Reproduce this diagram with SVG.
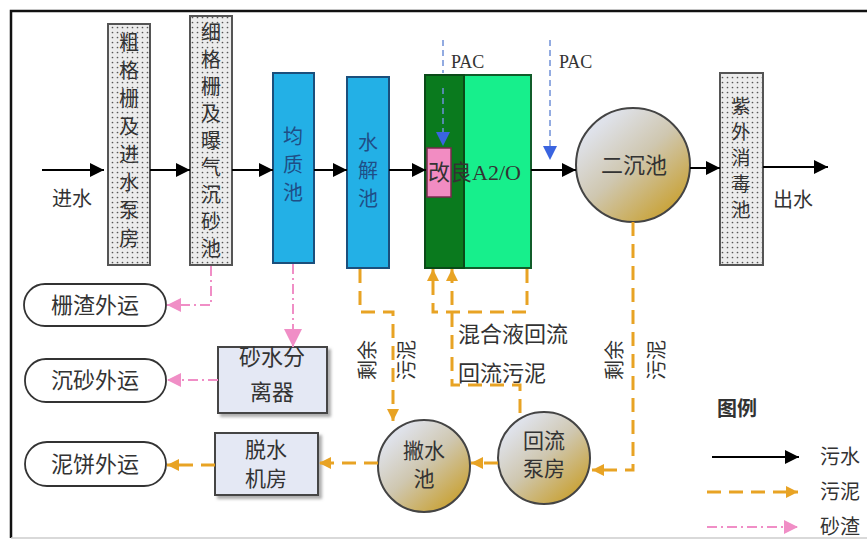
<svg xmlns="http://www.w3.org/2000/svg" width="867" height="540" viewBox="0 0 867 540">
<defs>
<pattern id="dots" width="5" height="5" patternUnits="userSpaceOnUse">
<rect width="5" height="5" fill="#ececec"/>
<circle cx="2.5" cy="2.5" r="0.85" fill="#555"/>
</pattern>
<linearGradient id="ball" x1="0.2" y1="0.15" x2="0.85" y2="0.9">
<stop offset="0" stop-color="#dfe2ea"/>
<stop offset="0.45" stop-color="#cfc7b0"/>
<stop offset="1" stop-color="#c9a235"/>
</linearGradient>
<filter id="sh" x="-10%" y="-10%" width="130%" height="130%">
<feDropShadow dx="3" dy="3" stdDeviation="1.5" flood-color="#777" flood-opacity="0.6"/>
</filter>
<marker id="ab" viewBox="0 0 10 10" refX="10" refY="5" markerWidth="14" markerHeight="14" markerUnits="userSpaceOnUse" orient="auto">
<path d="M0,0 L10,5 L0,10 Z" fill="#000"/>
</marker>
<marker id="ao" viewBox="0 0 10 10" refX="10" refY="5" markerWidth="12" markerHeight="12" markerUnits="userSpaceOnUse" orient="auto">
<path d="M0,0 L10,5 L0,10 Z" fill="#e8a324"/>
</marker>
<marker id="ap" viewBox="0 0 10 10" refX="10" refY="5" markerWidth="16" markerHeight="14" markerUnits="userSpaceOnUse" orient="auto">
<path d="M0,0 L10,5 L0,10 Z" fill="#f08ec6"/>
</marker>
<marker id="apl" viewBox="0 0 10 10" refX="10" refY="5" markerWidth="26" markerHeight="18" markerUnits="userSpaceOnUse" orient="auto">
<path d="M0,0 L10,5 L0,10 Z" fill="#f08ec6"/>
</marker>
<marker id="abl" viewBox="0 0 10 10" refX="10" refY="5" markerWidth="14" markerHeight="14" markerUnits="userSpaceOnUse" orient="auto">
<path d="M0,0 L10,5 L0,10 Z" fill="#3a64e0"/>
</marker>
</defs>
<style>
text{font-family:"Noto Sans CJK SC","Liberation Sans",sans-serif;fill:#333;}
.t19{font-size:19px;}
.t20{font-size:20px;}
.t21{font-size:21px;}
.t22{font-size:22px;}
.blue{fill:#1f4e86;font-size:20px;}
.ser{font-family:"Liberation Serif",serif;}
.dotbox{fill:url(#dots);stroke:#555;stroke-width:2;}
.bluebox{fill:#23b0e6;stroke:#1b4f7c;stroke-width:2;}
.gbox{fill:#e4e8f4;stroke:#444;stroke-width:2;}
.oval{fill:#fff;stroke:#333;stroke-width:1.8;}
.ball{fill:url(#ball);stroke:#444;stroke-width:2;}
.blk{stroke:#000;stroke-width:2;fill:none;}
.org{stroke:#e8a324;stroke-width:3;fill:none;stroke-dasharray:14 8;}
.pnk{stroke:#f08ec6;stroke-width:2;fill:none;stroke-dasharray:10 4 2 4;}
.pac{stroke:#6f90d8;stroke-width:1.5;fill:none;stroke-dasharray:6 4;}
</style>
<rect width="867" height="540" fill="#fff"/>
<path d="M867,11 H11 V538" fill="none" stroke="#111" stroke-width="2.5"/>
<path d="M11,538 H867" fill="none" stroke="#ccc" stroke-width="1.5"/>

<g id="n-cugeshan">
<rect class="dotbox" x="108" y="24" width="42" height="241"/>
<text class="t20" text-anchor="middle"><tspan x="129" y="50">粗</tspan><tspan x="129" y="78">格</tspan><tspan x="129" y="106">栅</tspan><tspan x="129" y="134">及</tspan><tspan x="129" y="162">进</tspan><tspan x="129" y="190">水</tspan><tspan x="129" y="218">泵</tspan><tspan x="129" y="246">房</tspan></text>
</g>
<g id="n-xigeshan">
<rect class="dotbox" x="190" y="16" width="42" height="249"/>
<text class="t20" text-anchor="middle"><tspan x="211" y="40">细</tspan><tspan x="211" y="67">格</tspan><tspan x="211" y="94">栅</tspan><tspan x="211" y="121">及</tspan><tspan x="211" y="148">曝</tspan><tspan x="211" y="175">气</tspan><tspan x="211" y="202">沉</tspan><tspan x="211" y="229">砂</tspan><tspan x="211" y="256">池</tspan></text>
</g>
<g id="n-junzhi">
<rect class="bluebox" x="273" y="73" width="41" height="190"/>
<text class="blue" text-anchor="middle"><tspan x="293" y="144">均</tspan><tspan x="293" y="172">质</tspan><tspan x="293" y="200">池</tspan></text>
</g>
<g id="n-shuijie">
<rect class="bluebox" x="347" y="77" width="42" height="191"/>
<text class="blue" text-anchor="middle"><tspan x="368" y="150">水</tspan><tspan x="368" y="178">解</tspan><tspan x="368" y="206">池</tspan></text>
</g>
<g id="n-a2o">
<rect x="464" y="75" width="67" height="193" fill="#17ef8c" stroke="#115c2a" stroke-width="2"/>
<rect x="425" y="75" width="39" height="193" fill="#0a7a1e" stroke="#0a4a18" stroke-width="2"/>
<rect x="427" y="148" width="24" height="49" fill="#f28cc2" stroke="#7a2a4e" stroke-width="1.5"/>
<text class="t22" x="428" y="180" fill="#2a3a2a">改良<tspan class="ser">A2/O</tspan></text>
<text class="ser" x="451" y="68" font-size="18">PAC</text>
<text class="ser" x="559" y="68" font-size="18">PAC</text>
</g>
<g id="n-erchen">
<circle class="ball" cx="633" cy="165" r="57"/>
<text class="t22" x="634" y="173" text-anchor="middle" fill="#555">二沉池</text>
</g>
<g id="n-ziwai">
<rect class="dotbox" x="720" y="73" width="43" height="192"/>
<text class="t19" text-anchor="middle"><tspan x="741" y="113">紫</tspan><tspan x="741" y="139">外</tspan><tspan x="741" y="165">消</tspan><tspan x="741" y="191">毒</tspan><tspan x="741" y="217">池</tspan></text>
</g>
<g id="n-labels">
<text class="t20" x="52" y="206">进水</text>
<text class="t20" x="773" y="207">出水</text>
<text class="t22" x="458" y="342">混合液回流</text>
<text class="t22" x="458" y="381">回流污泥</text>
<text class="t20" transform="translate(375,360) rotate(-90)" text-anchor="middle">剩余</text>
<text class="t20" transform="translate(414,360) rotate(-90)" text-anchor="middle">污泥</text>
<text class="t20" transform="translate(622,360) rotate(-90)" text-anchor="middle">剩余</text>
<text class="t20" transform="translate(664,360) rotate(-90)" text-anchor="middle">污泥</text>
</g>
<g id="n-zhazha">
<rect class="oval" x="24" y="284" width="142" height="42" rx="21"/>
<text class="t22" x="95" y="313" text-anchor="middle">栅渣外运</text>
</g>
<g id="n-chensha">
<rect class="oval" x="25" y="359" width="141" height="43" rx="21"/>
<text class="t22" x="95" y="388" text-anchor="middle">沉砂外运</text>
</g>
<g id="n-nibing">
<rect class="oval" x="25" y="442" width="141" height="44" rx="22"/>
<text class="t22" x="95" y="472" text-anchor="middle">泥饼外运</text>
</g>
<g id="n-shashui">
<rect class="gbox" x="218" y="347" width="109" height="66" filter="url(#sh)"/>
<text class="t22" text-anchor="middle"><tspan x="272" y="365">砂水分</tspan><tspan x="272" y="400">离器</tspan></text>
</g>
<g id="n-tuoshui">
<rect class="gbox" x="215" y="433" width="103" height="62" filter="url(#sh)"/>
<text class="t21" text-anchor="middle"><tspan x="266" y="457">脱水</tspan><tspan x="266" y="486">机房</tspan></text>
</g>
<g id="n-pieshui">
<circle class="ball" cx="424" cy="466" r="46"/>
<text class="t21" text-anchor="middle"><tspan x="424" y="458">撇水</tspan><tspan x="424" y="486">池</tspan></text>
</g>
<g id="n-huiliu">
<circle class="ball" cx="544" cy="458" r="46"/>
<text class="t21" text-anchor="middle"><tspan x="544" y="448">回流</tspan><tspan x="544" y="476">泵房</tspan></text>
</g>

<g id="connectors">
<line class="blk" x1="42" y1="170" x2="104" y2="170" marker-end="url(#ab)"/>
<line class="blk" x1="150" y1="170" x2="190" y2="170" marker-end="url(#ab)"/>
<line class="blk" x1="232" y1="170" x2="273" y2="170" marker-end="url(#ab)"/>
<line class="blk" x1="314" y1="170" x2="347" y2="170" marker-end="url(#ab)"/>
<line class="blk" x1="389" y1="170" x2="426" y2="170" marker-end="url(#ab)"/>
<line class="blk" x1="531" y1="170" x2="576" y2="170" marker-end="url(#ab)"/>
<line class="blk" x1="690" y1="168" x2="720" y2="168" marker-end="url(#ab)"/>
<line class="blk" x1="763" y1="167" x2="828" y2="167" marker-end="url(#ab)"/>
<line class="pac" x1="443" y1="40" x2="443" y2="73"/>
<line class="pac" x1="443" y1="88" x2="443" y2="146" stroke="#8fa9d8" marker-end="url(#abl)"/>
<line class="pac" x1="550" y1="40" x2="550" y2="160" marker-end="url(#abl)"/>
<path class="pnk" d="M211,266 V305 H167" marker-end="url(#ap)"/>
<line class="pnk" x1="293" y1="264" x2="293" y2="347" marker-end="url(#apl)"/>
<line class="pnk" x1="218" y1="380" x2="167" y2="380" marker-end="url(#ap)"/>
<line class="org" x1="215" y1="465" x2="167" y2="465" marker-end="url(#ao)"/>
<line class="org" x1="378" y1="463" x2="319" y2="463" marker-end="url(#ao)"/>
<line class="org" x1="498" y1="463" x2="471" y2="463" marker-end="url(#ao)"/>
<path class="org" d="M633,222 V470 H592" marker-end="url(#ao)"/>
<path class="org" d="M360,269 V312 H393 V421" marker-end="url(#ao)"/>
<path class="org" d="M527,269 V312 H433 V269" marker-end="url(#ao)"/>
<path class="org" d="M520,413 V385 H452 V269" marker-end="url(#ao)"/>
</g>

<g id="legend">
<text x="717" y="416" font-size="20" font-weight="bold">图例</text>
<line class="blk" x1="712" y1="457" x2="799" y2="457" marker-end="url(#ab)"/>
<text class="t20" x="820" y="464">污水</text>
<line class="org" x1="707" y1="492" x2="798" y2="492" stroke-dasharray="28 14" marker-end="url(#ao)"/>
<text class="t20" x="820" y="499">污泥</text>
<line class="pnk" x1="707" y1="527" x2="798" y2="527" stroke-dasharray="28 10 3 12" marker-end="url(#ap)"/>
<text class="t20" x="820" y="534">砂渣</text>
</g>
</svg>
